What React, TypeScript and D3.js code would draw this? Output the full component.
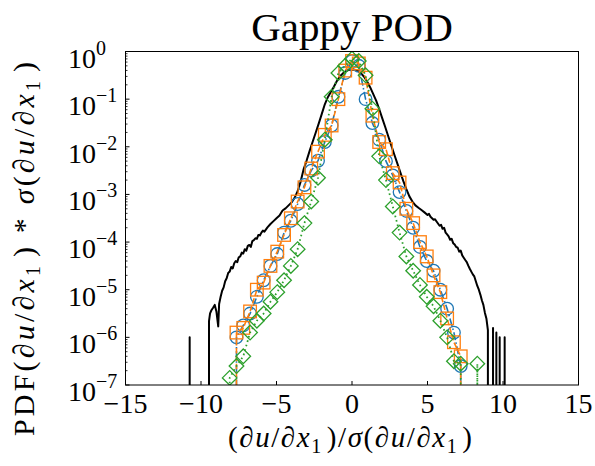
import React from "react";
import * as d3 from "d3";

// ---------- data ----------
const xTicks = [-15, -10, -5, 0, 5, 10, 15];
const yExponents = [0, -1, -2, -3, -4, -5, -6, -7];

// DNS reference PDF (black solid)
const blackX = [
  -10.85, -10.75, -10.65, -9.55, -9.47, -9.4, -9.31, -9.2, -9.09, -8.98, -8.86, -8.8, -8.7, -8.6, -8.5,
  -8.4, -8.3, -8.2, -8.1, -8.0, -7.9, -7.8, -7.7, -7.6, -7.5, -7.4, -7.3, -7.2, -7.1, -7.0, -6.9, -6.8,
  -6.7, -6.6, -6.5, -6.4, -6.3, -6.2, -6.1, -6.0, -5.9, -5.8, -5.6, -5.4, -5.2, -5.0, -4.8, -4.6, -4.4,
  -4.2, -4.0, -3.8, -3.6, -3.4, -3.2, -3.0, -2.8, -2.6, -2.4, -2.2, -2.0, -1.8, -1.6, -1.4, -1.2, -1.0,
  -0.8, -0.6, -0.4, -0.2, 0, 0.2, 0.4, 0.6, 0.8, 1.0, 1.2, 1.4, 1.6, 1.8, 2.0, 2.2, 2.4, 2.6, 2.8, 3.0,
  3.2, 3.4, 3.6, 3.8, 4.0, 4.2, 4.4, 4.6, 4.8, 5.0, 5.1, 5.2, 5.4, 5.5, 5.6, 5.8, 5.9, 6.0, 6.1, 6.2,
  6.3, 6.4, 6.5, 6.6, 6.7, 6.8, 6.9, 7.0, 7.1, 7.2, 7.3, 7.4, 7.5, 7.6, 7.7, 7.8, 7.9, 8.0, 8.1, 8.2,
  8.3, 8.4, 8.5, 8.6, 8.7, 8.8, 8.9, 9.0, 9.1, 9.25, 9.34, 9.45, 9.56, 9.67, 9.78, 9.9, 10.11, 10.2,
];
const blackY = [
  0, 1.0e-6, 0, 0, 2.2e-6, 3.2e-6, 3.7e-6, 4.2e-6, 4.8e-6, 3.5e-6, 1.7e-6, 5.0e-6, 7.1e-6, 9.5e-6, 1.12e-5,
  1.51e-5, 1.74e-5, 2.24e-5, 2.4e-5, 3.0e-5, 2.8e-5, 3.6e-5, 4.0e-5, 3.8e-5, 4.8e-5, 5.0e-5, 6.0e-5, 5.75e-5, 7.1e-5, 6.6e-5, 8.3e-5, 8.7e-5,
  7.9e-5, 1.05e-4, 1.1e-4, 1.2e-4, 1.17e-4, 1.41e-4, 1.38e-4, 1.58e-4, 1.74e-4, 1.66e-4, 2.04e-4, 2.4e-4, 2.75e-4, 3.16e-4, 3.6e-4, 4.6e-4, 5.1e-4,
  5.9e-4, 6.8e-4, 8.5e-4, 1.17e-3, 1.86e-3, 3.4e-3, 5.2e-3, 8.3e-3, 1.29e-2, 2.0e-2, 3.1e-2, 4.9e-2, 7.8e-2, 0.11, 0.141, 0.182, 0.24,
  0.302, 0.347, 0.389, 0.412, 0.417, 0.412, 0.389, 0.347, 0.295, 0.234, 0.178, 0.129, 9.3e-2, 6.2e-2, 4.0e-2, 2.6e-2, 1.66e-2, 1.07e-2, 6.9e-3, 4.5e-3,
  2.9e-3, 1.9e-3, 1.29e-3, 9.1e-4, 7.1e-4, 5.9e-4, 5.25e-4, 4.7e-4, 4.2e-4, 3.7e-4, 3.9e-4, 3.4e-4, 2.95e-4, 3.0e-4, 2.7e-4, 2.2e-4, 2.3e-4, 1.9e-4, 2.0e-4, 1.58e-4,
  1.45e-4, 1.32e-4, 1.12e-4, 1.17e-4, 9.5e-5, 8.9e-5, 7.9e-5, 7.6e-5, 6.3e-5, 6.6e-5, 5.25e-5, 4.7e-5, 4.2e-5, 3.8e-5, 3.2e-5, 2.75e-5, 2.4e-5, 2.1e-5, 1.9e-5, 1.51e-5,
  1.2e-5, 1.0e-5, 7.9e-6, 6.0e-6, 4.8e-6, 3.3e-6, 2.5e-6, 1.41e-6, 0, 0, 1.58e-6, 0, 1.26e-6, 0, 1.0e-6, 0, 1.0e-6, 0,
];

// model series (binned)
const blueX = [
  -8.1, -7.65, -7.2, -6.75, -6.3, -5.85, -5.4, -4.95, -4.5, -4.05, -3.6, -3.15, -2.7, -2.25, -1.8, -1.35, -0.9,
  -0.45, 0, 0.45, 0.9, 1.35, 1.8, 2.25, 2.7, 3.15, 3.6, 4.05, 4.5, 4.95, 5.4, 5.85, 6.3, 6.75, 7.2, 7.65,
];
const blueY = [
  0, 1.0e-6, 1.78e-6, 3.16e-6, 7.1e-6, 1.58e-5, 3.16e-5, 5.6e-5, 1.58e-4, 2.8e-4, 6.3e-4, 1.58e-3, 3.16e-3, 5.1e-3, 1.26e-2, 2.8e-2, 0.112,
  0.355, 0.631, 0.501, 0.1, 3.16e-2, 1.41e-2, 5.0e-3, 2.5e-3, 1.12e-3, 4.5e-4, 2.0e-4, 7.9e-5, 4.0e-5, 2.5e-5, 1.0e-5, 4.0e-6, 1.26e-6, 2.5e-7, 0,
];

const orangeX = [
  -8.1, -7.65, -7.2, -6.75, -6.3, -5.85, -5.4, -4.95, -4.5, -4.05, -3.6, -3.15, -2.7, -2.25, -1.8, -1.35, -0.9,
  -0.45, 0, 0.45, 0.9, 1.35, 1.8, 2.25, 2.7, 3.15, 3.6, 4.05, 4.5, 4.95, 5.4, 5.85, 6.3, 6.75, 7.2, 7.65,
];
const orangeY = [
  0, 1.26e-6, 1.58e-6, 3.5e-6, 1.0e-5, 1.41e-5, 3.16e-5, 6.3e-5, 1.41e-4, 3.16e-4, 7.1e-4, 1.41e-3, 3.5e-3, 7.9e-3, 1.78e-2, 2.8e-2, 0.1,
  0.398, 0.631, 0.562, 0.282, 4.5e-2, 1.26e-2, 8.9e-3, 2.8e-3, 1.78e-3, 5.0e-4, 2.5e-4, 1.0e-4, 5.0e-5, 2.0e-5, 8.9e-6, 2.5e-6, 7.9e-7, 4.0e-7, 0,
];

const greenX = [
  -8.55, -8.1, -7.65, -7.2, -6.75, -6.3, -5.85, -5.4, -4.95, -4.5, -4.05, -3.6, -3.15, -2.7, -2.25, -1.8, -1.35, -0.9,
  -0.45, 0, 0.45, 0.9, 1.35, 1.8, 2.25, 2.7, 3.15, 3.6, 4.05, 4.5, 4.95, 5.4, 5.85, 6.3, 6.75, 7.2, 7.65, 8.3, 8.75,
];
const greenY = [
  0, 1.41e-7, 2.5e-7, 4.0e-7, 1.26e-6, 2.24e-6, 3.16e-6, 5.6e-6, 8.9e-6, 1.58e-5, 3.16e-5, 7.1e-5, 2.5e-4, 7.1e-4, 2.24e-3, 1.41e-2, 0.112, 0.355,
  0.501, 0.708, 0.631, 0.316, 6.3e-2, 6.3e-3, 2.0e-3, 5.6e-4, 1.58e-4, 5.0e-5, 2.5e-5, 1.26e-5, 7.1e-6, 4.5e-6, 2.24e-6, 1.0e-6, 3.16e-7, 2.8e-7, 0, 2.8e-7, 0,
];

// ---------- layout ----------
const W = 595;
const H = 466;
const L = 125.5;
const R = 578.5;
const T = 51.5;
const B = 385;
const FONT = "'Liberation Serif', 'Times New Roman', serif";

const xScale = d3.scaleLinear().domain([-15, 15]).range([L, R]);
const yScale = d3.scaleLog().domain([1e-7, 1]).range([B, T]);

const yPix = (v: number) => (v > 0 ? yScale(v) : yScale(1e-300));

function pathOf(xs: number[], ys: number[]) {
  const pts: [number, number][] = xs.map((x, i) => [xScale(x), yPix(ys[i])]);
  return d3.line()(pts) || "";
}

function markerPoints(xs: number[], ys: number[]) {
  return xs
    .map((x, i) => ({ x, y: ys[i] }))
    .filter((p) => p.y > 0)
    .map((p) => ({ px: xScale(p.x), py: yScale(p.y) }));
}

const BLUE = "#1f77b4";
const ORANGE = "#ff7f0e";
const GREEN = "#2ca02c";

const Sub = ({ c }: { c: string }) => (
  <>
    <tspan dy={6} fontSize={20} fontStyle="normal">{c}</tspan>
    <tspan dy={-6}>{"\u200A"}</tspan>
  </>
);

export default function App() {
  const minor: number[] = [];
  for (let e = -7; e < 0; e++) {
    for (let m = 2; m <= 9; m++) minor.push(m * Math.pow(10, e));
  }

  const blueP = markerPoints(blueX, blueY);
  const orangeP = markerPoints(orangeX, orangeY);
  const greenP = markerPoints(greenX, greenY);

  return (
    <svg
      width={W}
      height={H}
      style={{ position: "absolute", left: 0, top: 0, background: "#fff" }}
      fontFamily={FONT}
    >
      <defs>
        <clipPath id="plot">
          <rect x={L} y={T} width={R - L} height={B - T} />
        </clipPath>
      </defs>

      <g clipPath="url(#plot)" fill="none">
        <path d={pathOf(blackX, blackY)} stroke="#000" strokeWidth={2} strokeLinejoin="round" />

        <path d={pathOf(blueX, blueY)} stroke={BLUE} strokeWidth={1.6} strokeDasharray="8,2.4,1.5,2.4" />
        {blueP.map((p, i) => (
          <circle key={"b" + i} cx={p.px} cy={p.py} r={6.3} stroke={BLUE} strokeWidth={1.3} fill="none" />
        ))}

        <path d={pathOf(orangeX, orangeY)} stroke={ORANGE} strokeWidth={1.6} strokeDasharray="5.5,2.4" />
        {orangeP.map((p, i) => (
          <rect key={"o" + i} x={p.px - 6.3} y={p.py - 6.3} width={12.6} height={12.6} stroke={ORANGE} strokeWidth={1.3} fill="none" />
        ))}

        <path d={pathOf(greenX, greenY)} stroke={GREEN} strokeWidth={1.8} strokeDasharray="1.6,3" />
        {greenP.map((p, i) => (
          <path
            key={"g" + i}
            d={`M${p.px},${p.py - 7.3}L${p.px + 7.3},${p.py}L${p.px},${p.py + 7.3}L${p.px - 7.3},${p.py}Z`}
            stroke={GREEN}
            strokeWidth={1.3}
            fill="none"
          />
        ))}
      </g>

      {/* frame */}
      <rect x={L} y={T} width={R - L} height={B - T} fill="none" stroke="#000" strokeWidth={1} />

      {/* x ticks */}
      {xTicks.map((t) => (
        <g key={"xt" + t}>
          <line x1={xScale(t)} x2={xScale(t)} y1={B} y2={B - 4} stroke="#000" strokeWidth={1} />
          <text x={xScale(t)} y={413} fontSize={28} textAnchor="middle">
            {t < 0 ? "\u2212" + Math.abs(t) : String(t)}
          </text>
        </g>
      ))}

      {/* y ticks */}
      {yExponents.map((e) => {
        const y = yScale(Math.pow(10, e));
        return (
          <g key={"yt" + e}>
            <line x1={L} x2={L + 4} y1={y} y2={y} stroke="#000" strokeWidth={1} />
            <text x={68} y={y + 16} fontSize={28}>
              10
              <tspan dy={-13} fontSize={20}>
                {e === 0 ? "0" : "\u2212" + Math.abs(e)}
              </tspan>
            </text>
          </g>
        );
      })}
      {minor.map((v, i) => (
        <line key={"m" + i} x1={L} x2={L + 2} y1={yScale(v)} y2={yScale(v)} stroke="#000" strokeWidth={0.8} />
      ))}

      {/* title */}
      <text x={352} y={41} fontSize={41} textAnchor="middle">
        Gappy POD
      </text>

      {/* x label */}
      <text x={350} y={447} fontSize={29} textAnchor="middle" textLength={244} lengthAdjust="spacing">
        (∂<tspan fontStyle="italic">u</tspan>/∂<tspan fontStyle="italic">x</tspan>
        <Sub c="1" />)/<tspan fontStyle="italic">σ</tspan>(∂<tspan fontStyle="italic">u</tspan>/∂
        <tspan fontStyle="italic">x</tspan>
        <Sub c="1" />)
      </text>

      {/* y label */}
      <text
        transform={`translate(34,249) rotate(-90)`}
        fontSize={30}
        textAnchor="middle"
        textLength={374}
        lengthAdjust="spacing"
      >
        PDF(∂<tspan fontStyle="italic">u</tspan>/∂<tspan fontStyle="italic">x</tspan>
        <Sub c="1" />) * <tspan fontStyle="italic">σ</tspan>(∂<tspan fontStyle="italic">u</tspan>/∂
        <tspan fontStyle="italic">x</tspan>
        <Sub c="1" />)
      </text>
    </svg>
  );
}
